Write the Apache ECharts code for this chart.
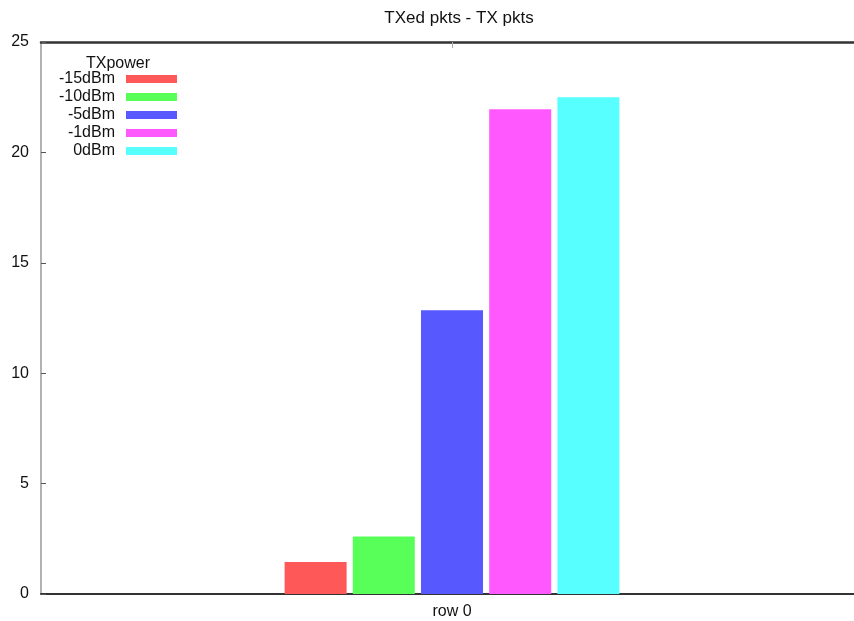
<!DOCTYPE html>
<html>
<head>
<meta charset="utf-8">
<style>
  html, body { margin: 0; padding: 0; background: #fff; overflow: hidden; }
  /* the plot frame runs a little past the right edge of the window */
  #chart { width: 863px; height: 621px; }
</style>
<script src="https://cdn.jsdelivr.net/npm/echarts@6/dist/echarts.min.js"></script>
</head>
<body>
<div id="chart"></div>
<script>
// Transmitted packet counts per TX power level
const categories = ['row 0'];
const powerLevels = ['-15dBm', '-10dBm', '-5dBm', '-1dBm', '0dBm'];
const txPkts = [1.45, 2.6, 12.85, 21.95, 22.5];
const yTicks = [0, 5, 10, 15, 20, 25];
const colors = ['#ff5858', '#58ff58', '#5858ff', '#ff58ff', '#58ffff'];

const FONT = 'Liberation Sans';
const W = 863;
const chart = echarts.init(document.getElementById('chart'), null, { renderer: 'canvas' });

const series = powerLevels.map((name, i) => ({
  name: name,
  type: 'bar',
  data: [txPkts[i]],
  barWidth: 62,
  barGap: '10%',
  itemStyle: { color: colors[i] },
  emphasis: { disabled: true },
  animation: false
}));

// One legend block per level so each swatch lines up on the right with its label
const legends = powerLevels.map((name, i) => ({
  data: [name],
  right: W - 177,
  top: 71 + i * 18,
  align: 'right',
  orient: 'vertical',
  itemWidth: 51,
  itemHeight: 8,
  itemGap: 0,
  padding: 0,
  selectedMode: false,
  icon: 'rect',
  textStyle: { fontFamily: FONT, fontSize: 16, color: '#111', padding: [0, 6, 0, 0] }
}));

chart.setOption({
  animation: false,
  title: [
    {
      text: 'TXed pkts - TX pkts',
      left: 454, top: 5, textAlign: 'center',
      textStyle: { fontFamily: FONT, fontSize: 17, fontWeight: 'normal', color: '#111' }
    },
    {
      text: 'TXpower',
      left: 113, top: 51, textAlign: 'center',
      textStyle: { fontFamily: FONT, fontSize: 16, fontWeight: 'normal', color: '#111' }
    }
  ],
  legend: legends,
  grid: { left: 41, top: 42, right: 0, bottom: 27, containLabel: false },
  xAxis: [
    {
      type: 'category',
      data: categories,
      position: 'bottom',
      axisLine: { lineStyle: { color: '#333', width: 2 } },
      axisTick: { show: false },
      axisLabel: { fontFamily: FONT, fontSize: 16, color: '#111', margin: 10 }
    },
    {
      type: 'category',
      data: categories,
      position: 'top',
      axisLine: { lineStyle: { color: '#333', width: 2.5 } },
      axisTick: { show: true, inside: true, alignWithLabel: true, length: 6, lineStyle: { color: '#aaa' } },
      axisLabel: { show: false }
    }
  ],
  yAxis: {
    type: 'value',
    min: yTicks[0],
    max: yTicks[yTicks.length - 1],
    interval: 5,
    axisLine: { show: true, lineStyle: { color: '#999', width: 1.5 } },
    axisTick: { show: true, inside: true, length: 5, lineStyle: { color: '#555' } },
    splitLine: { show: false },
    axisLabel: { fontFamily: FONT, fontSize: 16, color: '#111', margin: 12 }
  },
  series: series
});
</script>
</body>
</html>
